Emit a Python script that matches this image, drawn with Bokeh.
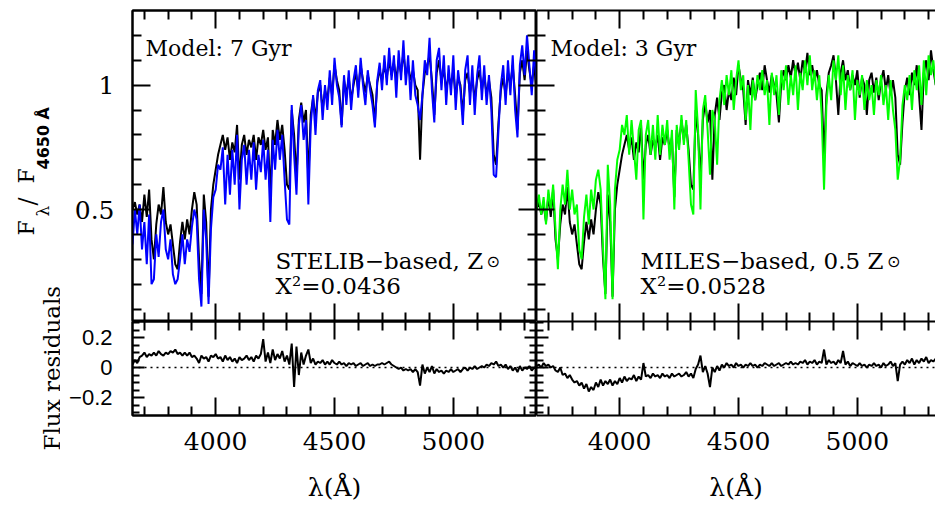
import math
from bokeh.plotting import figure
from bokeh.layouts import row, column
from bokeh.models import Range1d, LinearAxis, FixedTicker, Label, Span
from bokeh.embed import file_html
from bokeh.resources import INLINE
from bokeh.core.validation import silence
from bokeh.core.validation.warnings import MISSING_RENDERERS

silence(MISSING_RENDERERS, True)

# ---------------- data ----------------
WAVE = [
    3650, 3660, 3670, 3680, 3690, 3700, 3710, 3720, 3730, 3740,
    3750, 3760, 3770, 3780, 3790, 3800, 3810, 3820, 3830, 3840,
    3850, 3860, 3870, 3880, 3890, 3900, 3910, 3920, 3930, 3940,
    3950, 3960, 3970, 3980, 3990, 4000, 4010, 4020, 4030, 4040,
    4050, 4060, 4070, 4080, 4090, 4100, 4110, 4120, 4130, 4140,
    4150, 4160, 4170, 4180, 4190, 4200, 4210, 4220, 4230, 4240,
    4250, 4260, 4270, 4280, 4290, 4300, 4310, 4320, 4330, 4340,
    4350, 4360, 4370, 4380, 4390, 4400, 4410, 4420, 4430, 4440,
    4450, 4460, 4470, 4480, 4490, 4500, 4510, 4520, 4530, 4540,
    4550, 4560, 4570, 4580, 4590, 4600, 4610, 4620, 4630, 4640,
    4650, 4660, 4670, 4680, 4690, 4700, 4710, 4720, 4730, 4740,
    4750, 4760, 4770, 4780, 4790, 4800, 4810, 4820, 4830, 4840,
    4850, 4860, 4870, 4880, 4890, 4900, 4910, 4920, 4930, 4940,
    4950, 4960, 4970, 4980, 4990, 5000, 5010, 5020, 5030, 5040,
    5050, 5060, 5070, 5080, 5090, 5100, 5110, 5120, 5130, 5140,
    5150, 5160, 5170, 5180, 5190, 5200, 5210, 5220, 5230, 5240,
    5250, 5260, 5270, 5280, 5290, 5300, 5310, 5320, 5330, 5340,
    5350,
]

OBSERVED = [
    0.50, 0.53, 0.48, 0.52, 0.45, 0.56, 0.47, 0.58, 0.38, 0.30,
    0.44, 0.52, 0.48, 0.59, 0.45, 0.40, 0.44, 0.36, 0.28, 0.26,
    0.37, 0.45, 0.38, 0.46, 0.40, 0.50, 0.57, 0.52, 0.30, 0.16,
    0.56, 0.45, 0.15, 0.50, 0.60, 0.66, 0.72, 0.76, 0.80, 0.74,
    0.79, 0.70, 0.77, 0.73, 0.84, 0.62, 0.76, 0.80, 0.72, 0.78,
    0.75, 0.80, 0.70, 0.79, 0.76, 0.82, 0.74, 0.79, 0.55, 0.82,
    0.76, 0.86, 0.78, 0.84, 0.74, 0.60, 0.58, 0.90, 0.80, 0.62,
    0.86, 0.93, 0.85, 0.90, 0.62, 0.88, 0.95, 0.86, 0.97, 1.00,
    0.90, 0.98, 0.94, 1.03, 0.96, 1.08, 1.02, 0.98, 0.84, 1.02,
    0.96, 1.03, 0.94, 1.00, 1.05, 0.98, 1.08, 1.02, 0.97, 1.04,
    1.00, 0.96, 0.85, 1.01, 1.06, 1.02, 1.08, 1.03, 1.10, 1.04,
    1.09, 1.02, 1.10, 1.05, 1.13, 1.04, 1.08, 1.02, 1.06, 1.00,
    0.98, 0.70, 0.96, 1.05, 1.08, 1.12, 1.02, 0.88, 1.05, 1.10,
    1.02, 1.06, 0.98, 1.04, 1.00, 1.06, 0.95, 1.03, 1.00, 0.88,
    1.02, 1.05, 0.97, 1.03, 0.94, 1.02, 1.06, 0.98, 1.04, 0.96,
    1.02, 0.95, 0.72, 0.68, 0.85, 0.98, 1.03, 0.96, 1.05, 1.00,
    1.08, 0.96, 0.82, 1.05, 1.10, 1.02, 1.14, 1.06, 1.00, 1.08,
    0.98,
]

MODEL_STELIB = [
    0.36, 0.50, 0.40, 0.52, 0.34, 0.45, 0.28, 0.48, 0.20, 0.22,
    0.40, 0.31, 0.45, 0.50, 0.34, 0.30, 0.38, 0.24, 0.20, 0.22,
    0.30, 0.40, 0.28, 0.38, 0.33, 0.43, 0.50, 0.46, 0.22, 0.11,
    0.50, 0.38, 0.12, 0.42, 0.55, 0.58, 0.68, 0.66, 0.75, 0.52,
    0.72, 0.56, 0.74, 0.60, 0.80, 0.50, 0.70, 0.76, 0.60, 0.74,
    0.62, 0.77, 0.58, 0.72, 0.65, 0.78, 0.62, 0.74, 0.45, 0.78,
    0.66, 0.82, 0.70, 0.80, 0.62, 0.46, 0.44, 0.92, 0.72, 0.56,
    0.84, 0.92, 0.78, 0.86, 0.52, 0.84, 0.96, 0.80, 0.98, 1.02,
    0.86, 1.00, 0.90, 1.06, 0.92, 1.11, 1.00, 0.95, 0.83, 1.04,
    0.92, 1.06, 0.90, 1.02, 1.08, 0.95, 1.11, 1.00, 0.92, 1.06,
    0.98, 0.92, 0.83, 1.02, 1.09, 0.98, 1.12, 1.00, 1.15, 1.02,
    1.12, 0.95, 1.14, 1.02, 1.18, 1.00, 1.12, 0.94, 1.10, 0.96,
    0.92, 0.86, 0.96, 1.10, 1.04, 1.19, 0.98, 0.85, 1.10, 1.15,
    0.98, 1.12, 0.92, 1.08, 0.96, 1.12, 0.90, 1.06, 0.98, 0.84,
    1.06, 1.12, 0.92, 1.08, 0.88, 1.04, 1.12, 0.94, 1.08, 0.92,
    1.04, 0.90, 0.64, 0.63, 0.82, 1.00, 1.08, 0.92, 1.10, 0.96,
    1.12, 0.90, 0.79, 1.08, 1.16, 1.04, 1.20, 1.08, 0.96, 1.14,
    1.02,
]

MODEL_MILES = [
    0.50, 0.56, 0.48, 0.55, 0.44, 0.58, 0.50, 0.60, 0.42, 0.26,
    0.50, 0.60, 0.52, 0.66, 0.50, 0.58, 0.48, 0.52, 0.34, 0.30,
    0.47, 0.56, 0.44, 0.58, 0.50, 0.62, 0.66, 0.58, 0.34, 0.14,
    0.68, 0.52, 0.14, 0.58, 0.70, 0.74, 0.84, 0.80, 0.88, 0.72,
    0.86, 0.74, 0.62, 0.82, 0.86, 0.46, 0.80, 0.86, 0.72, 0.84,
    0.70, 0.88, 0.72, 0.84, 0.76, 0.86, 0.70, 0.82, 0.50, 0.84,
    0.74, 0.88, 0.76, 0.86, 0.70, 0.52, 0.48, 0.98, 0.82, 0.50,
    0.90, 0.96, 0.82, 0.64, 0.90, 0.86, 0.68, 0.94, 1.02, 0.92,
    1.04, 0.96, 1.06, 0.90, 1.02, 1.10, 0.98, 1.04, 0.86, 1.00,
    0.82, 1.02, 0.94, 1.04, 0.98, 1.06, 0.96, 1.02, 0.84, 1.05,
    0.96, 1.04, 0.88, 1.06, 0.98, 1.08, 0.92, 1.04, 0.96, 1.08,
    0.90, 1.05, 0.98, 1.10, 1.00, 1.12, 0.98, 1.06, 0.94, 1.04,
    0.88, 0.58, 0.92, 1.04, 0.94, 1.10, 1.02, 1.12, 0.96, 1.08,
    0.90, 1.04, 0.98, 1.06, 0.86, 1.02, 0.96, 1.04, 0.90, 1.02,
    0.94, 1.00, 0.88, 1.02, 0.96, 1.04, 0.92, 1.00, 0.86, 1.02,
    0.90, 0.82, 0.62, 0.70, 0.92, 1.00, 0.94, 1.04, 0.90, 1.06,
    0.98, 1.08, 0.92, 1.10, 0.96, 1.12, 1.04, 1.10, 1.00, 1.06,
    1.02,
]

RESID_STELIB = [
    0.02, 0.05, 0.03, 0.07, 0.08, 0.10, 0.07, 0.09, 0.08, 0.10,
    0.08, 0.11, 0.09, 0.08, 0.10, 0.09, 0.11, 0.10, 0.12, 0.09,
    0.10, 0.08, 0.10, 0.08, 0.10, 0.07, 0.08, 0.06, 0.03, 0.08,
    0.06, 0.07, 0.04, 0.08, 0.07, 0.09, 0.06, 0.07, 0.04, 0.08,
    0.05, 0.07, 0.04, 0.06, 0.03, 0.07, 0.05, 0.06, 0.08, 0.05,
    0.07, 0.04, 0.08, 0.06, 0.09, 0.19, 0.04, 0.10, 0.03, 0.12,
    0.05, 0.09, 0.06, 0.11, 0.04, 0.08, 0.02, 0.16, -0.13, 0.14,
    -0.05, 0.10, 0.02, 0.08, 0.12, 0.03, 0.06, 0.02, 0.04, 0.03,
    0.05, 0.02, 0.04, 0.02, 0.05, 0.03, 0.02, 0.04, 0.02, 0.03,
    0.01, 0.03, 0.02, 0.03, 0.01, 0.02, 0.03, 0.01, 0.02, 0.03,
    0.01, 0.02, 0.01, 0.02, 0.02, 0.03, 0.02, 0.03, 0.04, 0.02,
    0.01, 0.00, -0.01, 0.00, -0.02, -0.01, -0.02, -0.01, -0.03, -0.01,
    -0.03, -0.12, 0.02, -0.04, 0.00, -0.03, 0.01, -0.04, -0.01, -0.03,
    -0.02, -0.04, -0.02, -0.03, -0.01, -0.03, -0.02, -0.01, -0.03, -0.01,
    0.00, -0.02, 0.00, -0.01, 0.01, -0.01, 0.00, 0.01, 0.00, 0.02,
    0.01, 0.03, 0.02, 0.04, 0.01, 0.02, 0.00, 0.02, -0.01, 0.01,
    -0.02, 0.00, -0.03, 0.01, -0.02, 0.00, -0.01, 0.01, -0.02, 0.00,
    -0.01,
]

RESID_MILES = [
    0.01, 0.02, 0.00, 0.03, 0.01, 0.02, 0.00, 0.01, -0.02, -0.03,
    0.00, -0.05, -0.04, -0.07, -0.05, -0.08, -0.10, -0.09, -0.12, -0.10,
    -0.14, -0.11, -0.16, -0.13, -0.15, -0.10, -0.13, -0.08, -0.12, -0.09,
    -0.11, -0.08, -0.12, -0.09, -0.11, -0.07, -0.10, -0.06, -0.09, -0.07,
    -0.08, -0.05, -0.09, -0.06, -0.08, 0.03, -0.06, -0.05, -0.07, -0.04,
    -0.06, -0.05, -0.07, -0.04, -0.06, -0.05, -0.07, -0.04, -0.06, -0.05,
    -0.04, -0.06, -0.05, -0.03, -0.06, -0.04, -0.07, -0.01, 0.02, 0.08,
    -0.03, 0.01, -0.04, -0.13, 0.00, -0.03, 0.01, -0.02, 0.02, 0.00,
    0.03, 0.01, 0.02, 0.00, 0.03, 0.01, 0.02, 0.00, 0.02, 0.01,
    0.03, 0.01, 0.02, 0.00, 0.02, 0.01, 0.03, 0.02, 0.01, 0.03,
    0.01, 0.02, 0.03, 0.01, 0.02, 0.03, 0.02, 0.04, 0.02, 0.03,
    0.02, 0.04, 0.03, 0.05, 0.02, 0.04, 0.03, 0.05, 0.02, 0.04,
    0.03, 0.12, 0.02, 0.05, 0.03, 0.04, 0.02, 0.05, 0.03, 0.11,
    0.02, 0.04, 0.01, 0.03, 0.02, 0.01, 0.03, 0.01, 0.02, 0.00,
    0.02, 0.01, 0.03, 0.01, 0.02, 0.00, 0.03, 0.01, 0.02, 0.04,
    0.01, 0.03, -0.09, 0.02, 0.04, 0.02, 0.05, 0.03, 0.06, 0.02,
    0.05, 0.03, 0.06, 0.04, 0.07, 0.03, 0.05, 0.04, 0.06, 0.03,
    0.05,
]

X_MAJOR = [4000, 4500, 5000]
X_MINOR = [3700, 3800, 3900, 4100, 4200, 4300, 4400, 4600, 4700, 4800, 4900, 5100, 5200, 5300]
F_MAJOR = [0.5, 1.0]
F_MINOR = [0.1, 0.2, 0.3, 0.4, 0.6, 0.7, 0.8, 0.9, 1.1, 1.2]
R_MAJOR = [-0.2, 0.0, 0.2]
R_MINOR = [-0.3, -0.25, -0.15, -0.1, -0.05, 0.05, 0.1, 0.15, 0.25, 0.3]

X_LEFT = (3650, 5350)
X_RIGHT = (3650, 5329)
FLUX_RANGE = (0.05, 1.3)
RES_RANGE = (-0.32, 0.307)

SERIF = "DejaVu Serif"
SANS = "Liberation Sans"


def base_fig(width, height, xr, yr, left=0, top=0, bottom=0, right=0, outline=True):
    p = figure(width=width, height=height, x_range=Range1d(*xr), y_range=Range1d(*yr),
               output_backend="svg", toolbar_location=None,
               x_axis_location=None, y_axis_location=None,
               min_border_left=left, min_border_right=right,
               min_border_top=top, min_border_bottom=bottom)
    p.grid.visible = False
    p.background_fill_color = "white"
    p.border_fill_color = "white"
    if outline:
        p.outline_line_color = "black"
        p.outline_line_width = 2
    else:
        p.outline_line_color = None
    return p


def add_axis(p, side, major, minor, maj_len, min_len, labels=False, font=SERIF,
             size="24px", standoff=10, overrides=None):
    ax = LinearAxis(ticker=FixedTicker(ticks=major, minor_ticks=minor))
    ax.axis_line_width = 2
    ax.axis_line_color = "black"
    ax.major_tick_in = maj_len
    ax.major_tick_out = 0
    ax.minor_tick_in = min_len
    ax.minor_tick_out = 0
    ax.major_tick_line_width = 2
    ax.minor_tick_line_width = 2
    ax.major_tick_line_color = "black"
    ax.minor_tick_line_color = "black"
    if labels:
        ax.major_label_text_font = font
        ax.major_label_text_font_size = size
        ax.major_label_text_color = "black"
        ax.major_label_standoff = standoff
        if overrides:
            ax.major_label_overrides = overrides
    else:
        ax.major_label_text_font_size = "0px"
        ax.major_label_standoff = 0
        ax.major_label_text_alpha = 0
    p.add_layout(ax, side)
    return ax


def panel_texts(p, model_txt, lib_txt, chi_txt, x_model, x_lib, x_sun):
    p.add_layout(Label(x=x_model, y=1.147, text=model_txt, text_font=SERIF,
                       text_font_size="22px", text_baseline="alphabetic", text_color="black"))
    p.add_layout(Label(x=x_lib, y=0.295, text=lib_txt, text_font=SERIF,
                       text_font_size="23px", text_baseline="alphabetic", text_color="black"))
    p.add_layout(Label(x=x_sun, y=0.293, text="\u2299", text_font="DejaVu Sans",
                       text_font_size="16px", text_baseline="middle", text_color="black"))
    p.add_layout(Label(x=x_lib, y=0.192, text=chi_txt, text_font=SERIF,
                       text_font_size="23px", text_baseline="alphabetic", text_color="black"))


# ---------------- top-left: STELIB ----------------
p1 = base_fig(476, 321, X_LEFT, FLUX_RANGE, left=72, top=10)
add_axis(p1, "left", F_MAJOR, F_MINOR, 18, 9, labels=True, size="25px", standoff=18,
         overrides={1: "1"})
add_axis(p1, "right", F_MAJOR, F_MINOR, 18, 9)
add_axis(p1, "above", X_MAJOR, X_MINOR, 18, 9)
add_axis(p1, "below", X_MAJOR, X_MINOR, 18, 9)
p1.line(WAVE, OBSERVED, line_color="black", line_width=2)
p1.line(WAVE, MODEL_STELIB, line_color="#0000ff", line_width=2)
panel_texts(p1, "Model: 7 Gyr", "STELIB\u2212based, Z", "X\u00b2=0.0436", 3705, 4252, 5140)

# ---------------- top-right: MILES ----------------
p2 = base_fig(399, 321, X_RIGHT, FLUX_RANGE, left=0, top=10, outline=False)
add_axis(p2, "left", F_MAJOR, F_MINOR, 18, 9)
add_axis(p2, "above", X_MAJOR, X_MINOR, 18, 9)
add_axis(p2, "below", X_MAJOR, X_MINOR, 18, 9)
p2.line(WAVE, OBSERVED, line_color="black", line_width=2)
p2.line(WAVE, MODEL_MILES, line_color="#00ff00", line_width=2)
panel_texts(p2, "Model: 3 Gyr", "MILES\u2212based, 0.5 Z", "X\u00b2=0.0528", 3709, 4088, 5125)


# ---------------- residual panels ----------------
def resid_fig(width, xr, left, outline, resid, with_right):
    p = base_fig(width, 185, xr, RES_RANGE, left=left, bottom=91, outline=outline)
    if left > 0:
        add_axis(p, "left", R_MAJOR, R_MINOR, 12, 7, labels=True, font=SANS, size="22px",
                 standoff=20, overrides={0: "0"})
    else:
        add_axis(p, "left", R_MAJOR, R_MINOR, 12, 7)
    if with_right:
        add_axis(p, "right", R_MAJOR, R_MINOR, 12, 7)
    add_axis(p, "above", X_MAJOR, X_MINOR, 18, 9)
    ax = add_axis(p, "below", X_MAJOR, X_MINOR, 18, 9, labels=True, size="25px", standoff=16)
    ax.axis_label = "\u03bb(\u00c5)"
    ax.axis_label_text_font = SERIF
    ax.axis_label_text_font_size = "25px"
    ax.axis_label_text_font_style = "normal"
    ax.axis_label_text_color = "black"
    ax.axis_label_standoff = 20
    p.add_layout(Span(location=0, dimension="width", line_color="black",
                      line_width=1.5, line_dash="2 4"))
    p.line(WAVE, resid, line_color="black", line_width=2)
    return p


p3 = resid_fig(476, X_LEFT, 72, True, RESID_STELIB, True)
p4 = resid_fig(399, X_RIGHT, 0, False, RESID_MILES, False)

# ---------------- y-axis titles column ----------------
lab = figure(width=60, height=506, x_range=Range1d(0, 60), y_range=Range1d(0, 506),
             output_backend="svg", toolbar_location=None,
             x_axis_location=None, y_axis_location=None, min_border=0)
lab.grid.visible = False
lab.outline_line_color = None
lab.background_fill_color = "white"
lab.border_fill_color = "white"

ROT = math.pi / 2


def vlabel(x, y, text, font, size, style="normal"):
    lab.add_layout(Label(x=x, y=y, text=text, angle=ROT, text_font=font, text_font_size=size,
                         text_font_style=style, text_align="left",
                         text_baseline="alphabetic", text_color="black"))


vlabel(26, 271, "F", SERIF, "22px")
vlabel(42, 290, "\u03bb", SERIF, "17px")
vlabel(27, 301, "/", SERIF, "24px")
vlabel(26, 323, "F", SERIF, "22px")
vlabel(43, 337, "4650 \u00c5", "DejaVu Sans", "16px", style="bold")
vlabel(51, 56, "Flux residuals", SERIF, "23px")

layout = row(lab, column(row(p1, p2), row(p3, p4)))

with open("out.html", "w") as f:
    f.write(file_html(layout, INLINE))
